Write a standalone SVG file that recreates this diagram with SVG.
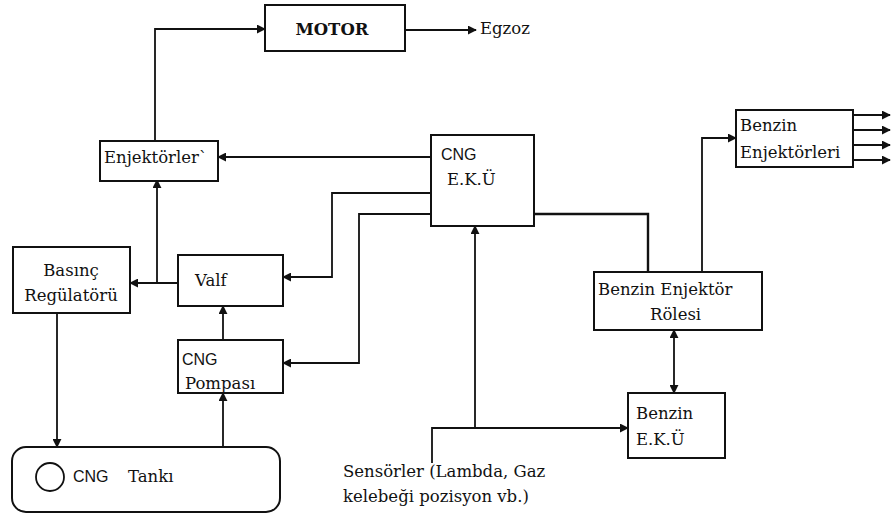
<svg xmlns="http://www.w3.org/2000/svg" width="891" height="529" viewBox="0 0 891 529">
<style>
.box{fill:#fff;stroke:#111;stroke-width:2}
.ln{fill:none;stroke:#111;stroke-width:1.8}
.ser{font-family:"DejaVu Serif","Liberation Serif",serif;font-size:16.5px;fill:#111}
.san{font-family:"Liberation Sans","DejaVu Sans",sans-serif;font-size:16px;fill:#111}
</style>
<defs>
<marker id="ah" viewBox="0 0 10 10" refX="9" refY="5" markerWidth="9" markerHeight="9" markerUnits="userSpaceOnUse" orient="auto-start-reverse">
<path d="M0,0 L10,5 L0,10 z" fill="#111"/>
</marker>
</defs>
<rect width="891" height="529" fill="#fff"/>
<g id="connectors">
<path class="ln" d="M155,140 V29 H265" marker-end="url(#ah)"/>
<path class="ln" d="M405,30 H476" marker-end="url(#ah)"/>
<path class="ln" d="M431,157 H218" marker-end="url(#ah)"/>
<path class="ln" d="M431,193 H332 V277 H283" marker-end="url(#ah)"/>
<path class="ln" d="M431,214 H359 V363 H283" marker-end="url(#ah)"/>
<path class="ln" d="M178,283 H130" marker-end="url(#ah)"/>
<path class="ln" d="M157,283 V180" marker-end="url(#ah)"/>
<path class="ln" d="M57,313 V447" marker-end="url(#ah)"/>
<path class="ln" d="M223,340 V306" marker-end="url(#ah)"/>
<path class="ln" d="M223,447 V393" marker-end="url(#ah)"/>
<path class="ln" d="M432,463 V428 H628" marker-end="url(#ah)"/>
<path class="ln" d="M475,428 V226" marker-end="url(#ah)"/>
<path class="ln" d="M533,214 H648 V272" style="stroke-width:2.4"/>
<path class="ln" d="M702,272 V138 H736" marker-end="url(#ah)"/>
<path class="ln" d="M674,330 V393" marker-start="url(#ah)" marker-end="url(#ah)"/>
<path class="ln" d="M853,115 H890" marker-end="url(#ah)"/>
<path class="ln" d="M853,130 H890" marker-end="url(#ah)"/>
<path class="ln" d="M853,145 H890" marker-end="url(#ah)"/>
<path class="ln" d="M853,160 H890" marker-end="url(#ah)"/>
</g>
<g id="motor">
<rect class="box" x="265" y="5" width="140" height="46"/>
<text class="ser" x="332" y="35" text-anchor="middle" font-weight="bold" font-size="17">MOTOR</text>
</g>
<g id="egzoz"><text class="ser" x="480" y="34">Egzoz</text></g>
<g id="enjektorler">
<rect class="box" x="100" y="141" width="118" height="40"/>
<text class="ser" x="104" y="163">Enjektörler`</text>
</g>
<g id="cng-eku">
<rect class="box" x="431" y="135" width="103" height="91"/>
<text class="san" x="441" y="160">CNG</text>
<text class="ser" x="447" y="185">E.K.Ü</text>
</g>
<g id="basinc-regulatoru">
<rect class="box" x="13" y="247" width="117" height="66"/>
<text class="ser" x="71" y="276" text-anchor="middle">Basınç</text>
<text class="ser" x="71" y="301" text-anchor="middle">Regülatörü</text>
</g>
<g id="valf">
<rect class="box" x="178" y="255" width="105" height="51"/>
<text class="ser" x="195" y="286">Valf</text>
</g>
<g id="cng-pompasi">
<rect class="box" x="178" y="340" width="105" height="53"/>
<text class="san" x="182" y="365">CNG</text>
<text class="ser" x="185" y="389">Pompası</text>
</g>
<g id="cng-tanki">
<rect class="box" x="12" y="447" width="268" height="65" rx="14"/>
<circle cx="50" cy="477" r="14" fill="none" stroke="#111" stroke-width="1.8"/>
<text class="san" x="73" y="482">CNG</text>
<text class="ser" x="128" y="482">Tankı</text>
</g>
<g id="benzin-enjektor-rolesi">
<rect class="box" x="594" y="272" width="168" height="58"/>
<text class="ser" x="598" y="295">Benzin Enjektör</text>
<text class="ser" x="650" y="320">Rölesi</text>
</g>
<g id="benzin-enjektorleri">
<rect class="box" x="736" y="110" width="117" height="57"/>
<text class="ser" x="740" y="131">Benzin</text>
<text class="ser" x="740" y="158">Enjektörleri</text>
</g>
<g id="benzin-eku">
<rect class="box" x="628" y="393" width="97" height="65"/>
<text class="ser" x="636" y="419">Benzin</text>
<text class="ser" x="636" y="445">E.K.Ü</text>
</g>
<g id="sensorler">
<text class="ser" x="343" y="477">Sensörler (Lambda, Gaz</text>
<text class="ser" x="343" y="502">kelebeği pozisyon vb.)</text>
</g>
</svg>
